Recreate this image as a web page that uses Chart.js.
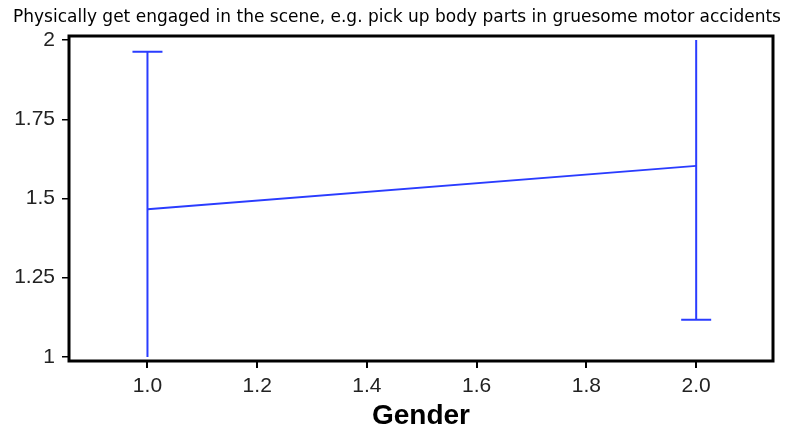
<!DOCTYPE html>
<html>
<head>
<meta charset="utf-8">
<script src="https://cdn.jsdelivr.net/npm/chart.js@4/dist/chart.umd.min.js"></script>
<style>
  html, body { margin: 0; padding: 0; background: #fff; }
  #wrap { width: 794px; height: 430px; }
</style>
</head>
<body>
<div id="wrap"><canvas id="myChart" width="794" height="430"></canvas></div>
<script>
// values
const genders = [1, 2];
const means = [1.466, 1.603];
const lowerEnds = [1.0, 1.117];
const upperEnds = [1.963, 2.0];
const xTicks = [1.0, 1.2, 1.4, 1.6, 1.8, 2.0];
const yTicks = [1, 1.25, 1.5, 1.75, 2];

const titleText = "Physically get engaged in the scene, e.g. pick up body parts in gruesome motor accidents";
const blue = "#2a3cff";

// error bars with caps (no cap where the bar runs to the axis limit, like the original)
const errorBars = {
  id: "errorBars",
  afterDatasetsDraw(chart) {
    const ctx = chart.ctx;
    const xs = chart.scales.x, ys = chart.scales.y;
    ctx.save();
    ctx.strokeStyle = blue;
    ctx.lineWidth = 2;
    genders.forEach((g, i) => {
      const px = xs.getPixelForValue(g);
      const top = ys.getPixelForValue(upperEnds[i]);
      const bot = ys.getPixelForValue(lowerEnds[i]);
      ctx.beginPath();
      ctx.moveTo(px, top);
      ctx.lineTo(px, bot);
      if (upperEnds[i] < 2) { ctx.moveTo(px - 15, top); ctx.lineTo(px + 15, top); }
      if (lowerEnds[i] > 1) { ctx.moveTo(px - 15, bot); ctx.lineTo(px + 15, bot); }
      ctx.stroke();
    });
    ctx.restore();
  }
};

// black frame around the plot area
const frame = {
  id: "frame",
  afterDraw(chart) {
    const a = chart.chartArea, ctx = chart.ctx;
    ctx.save();
    ctx.strokeStyle = "#000";
    ctx.lineWidth = 3;
    ctx.strokeRect(a.left, a.top, a.right - a.left, a.bottom - a.top);
    ctx.restore();
  }
};

var ctx = document.getElementById("myChart").getContext("2d");
var myChart = new Chart(ctx, {
  type: "scatter",
  data: {
    datasets: [
      {
        data: genders.map((g, i) => ({ x: g, y: means[i] })),
        showLine: true,
        borderColor: blue,
        borderWidth: 2,
        pointRadius: 0,
        fill: false,
      },
    ],
  },
  options: {
    responsive: false,
    animation: false,
    layout: { padding: 0 },
    plugins: {
      legend: { display: false },
      tooltip: { enabled: false },
      title: {
        display: true,
        text: titleText,
        color: "#000",
        font: { family: "DejaVu Sans", size: 17, weight: "normal", lineHeight: 1.2 },
        padding: { top: 7, bottom: 8.6 },
      },
    },
    scales: {
      x: {
        type: "linear",
        min: 0.857,
        max: 2.14,
        afterBuildTicks: (s) => { s.ticks = xTicks.map((v) => ({ value: v })); },
        afterFit: (s) => { s.height = 69; },
        grid: { drawOnChartArea: false, drawTicks: true, tickLength: 7, color: "#000", lineWidth: 2 },
        border: { display: false },
        ticks: {
          padding: 6,
          color: "#222",
          font: { family: "Liberation Sans", size: 21 },
          callback: (v) => Number(v).toFixed(1),
        },
        title: {
          display: true,
          text: "Gender",
          color: "#000",
          font: { family: "Liberation Sans", size: 28, weight: "bold", lineHeight: 1 },
          padding: { top: 0, bottom: 0 },
        },
      },
      y: {
        type: "linear",
        min: 0.987,
        max: 2.013,
        afterBuildTicks: (s) => { s.ticks = yTicks.map((v) => ({ value: v })); },
        afterFit: (s) => { s.width = 69; },
        grid: { drawOnChartArea: false, drawTicks: true, tickLength: 7, color: "#000", lineWidth: 1.5 },
        border: { display: false },
        ticks: {
          padding: 7,
          color: "#222",
          font: { family: "Liberation Sans", size: 21 },
          callback: (v) => String(v),
        },
      },
      yRight: {
        type: "linear",
        position: "right",
        display: true,
        afterFit: (s) => { s.width = 21; },
        grid: { display: false },
        border: { display: false },
        ticks: { display: false },
      },
    },
  },
  plugins: [errorBars, frame],
});
</script>
</body>
</html>
